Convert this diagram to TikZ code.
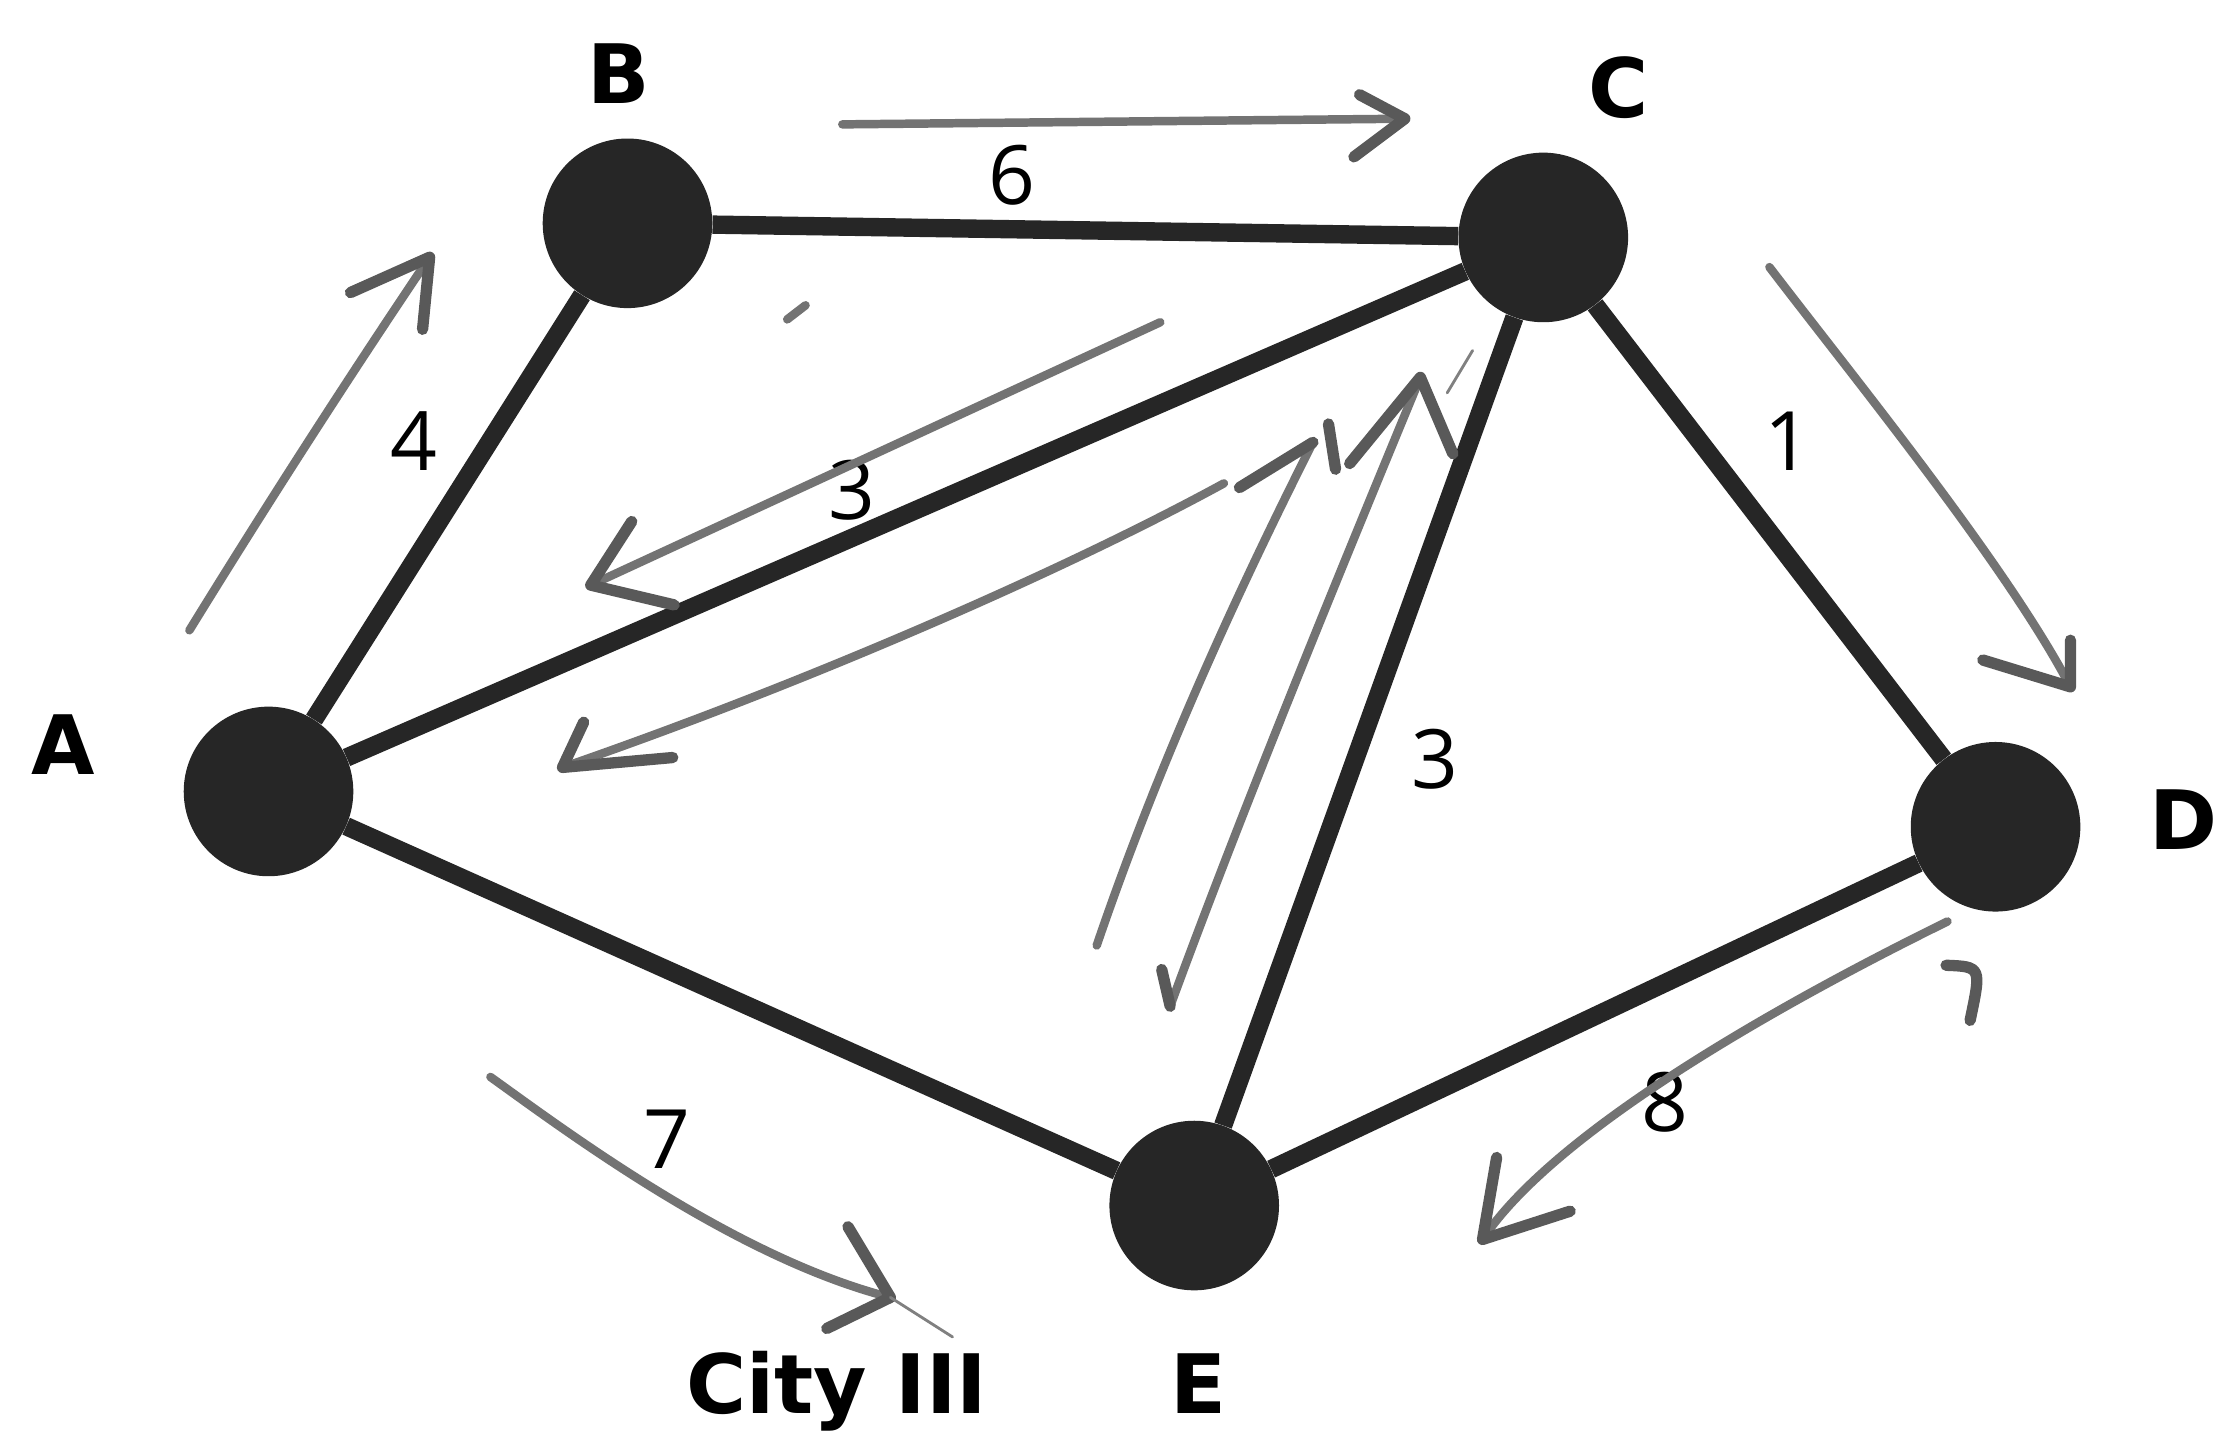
\documentclass[tikz,border=0pt]{standalone}
\usepackage{fontspec}
\setmainfont{DejaVu Sans}
\newfontfamily\digitfont{Open Sans}
\begin{document}
\begin{tikzpicture}[x=1pt,y=-1pt,
  vertex/.style={circle,fill=black!85,minimum size=120pt,inner sep=0pt},
  edge/.style={line width=13pt,black!85},
  hand/.style={line width=6pt,black!55,line cap=round,line join=round},
  barb/.style={line width=8pt,black!65,line cap=round,line join=round},
  thinmark/.style={line width=2pt,black!50,line cap=round},
  lab/.style={font=\fontsize{58}{62}\selectfont\bfseries,inner sep=0pt},
  wt/.style={font=\digitfont\fontsize{58}{62}\selectfont,inner sep=0pt}]
\useasboundingbox[fill=white] (0,0) rectangle (1568,1018);

% vertices
\node[vertex] (A) at (190,560) {};
\node[vertex] (B) at (444,158) {};
\node[vertex] (C) at (1092,168) {};
\node[vertex] (D) at (1412,585) {};
\node[vertex] (E) at (845,853) {};

% edges
\draw[edge] (A) -- (B);
\draw[edge] (B) -- (C);
\draw[edge] (A) -- (C);
\draw[edge] (C) -- (E);
\draw[edge] (C) -- (D);
\draw[edge] (A) -- (E);
\draw[edge] (E) -- (D);

% vertex labels
\node[lab] (lA) at (45,527) {A};
\node[lab] (lB) at (438,52) {B};
\node[lab] (lC) at (1145,62) {C};
\node[lab] (lD) at (1545,580) {D};
\node[lab,anchor=base] (lE) at (848,1000) {E};
\node[lab,anchor=base] (lcity) at (592,1000) {City III};

% weights
\node[wt] (w6) at (716,124) {6};
\node[wt] (w4) at (293,312) {4};
\node[wt] (w3a) at (603,347) {3};
\node[wt] (w1) at (1265,312) {1};
\node[wt] (w3b) at (1015,537) {3};
\node[wt] (w7) at (472,806) {7};
\node[wt] (w8) at (1178,780) {8};

% coordinates for hand-drawn arrows
\coordinate (p1s) at (134,446); \coordinate (p1t) at (304,182);
\coordinate (p2s) at (596,88);  \coordinate (p2t) at (994,84);
\coordinate (p3s) at (1252,189); \coordinate (p3t) at (1465,486);
\coordinate (p4s) at (821,228); \coordinate (p4t) at (418,414);
\coordinate (p5s) at (866,342); \coordinate (p5t) at (398,543);
\coordinate (p6s) at (776,669); \coordinate (p6t) at (929,313);
\coordinate (p7s) at (828,712); \coordinate (p7t) at (1005,267);
\coordinate (p8s) at (1378,652); \coordinate (p8t) at (1049,877);
\coordinate (p9s) at (347,762); \coordinate (p9t) at (630,918);

% A -> B
\draw[hand] (p1s) .. controls (190,355) and (250,262) .. (p1t);
\draw[barb] (248,207) -- (p1t) -- (299,233);
% B -> C
\draw[hand] (p2s) -- (p2t);
\draw[barb] (962,67) -- (p2t) -- (958,111);
% C -> D
\draw[hand] (p3s) .. controls (1310,265) and (1420,400) .. (p3t);
\draw[barb] (1465,453) -- (p3t) -- (1403,467);
% C -> A upper
\draw[hand] (p4s) -- (p4t);
\draw[barb] (447,369) -- (p4t) -- (477,428);
% C -> A lower
\draw[hand] (p5s) .. controls (760,400) and (580,480) .. (p5t);
\draw[barb] (413,511) -- (p5t) -- (476,536);
% E -> C left
\draw[hand] (p6s) .. controls (820,540) and (875,420) .. (p6t);
\draw[barb] (877,345) -- (p6t);
\draw[barb] (940,300) -- (945,332);
% E <-> C right
\draw[hand] (p7s) .. controls (880,570) and (950,400) .. (p7t);
\draw[barb] (955,328) -- (p7t) -- (1028,321);
\draw[barb] (p7s) -- (822,686);
\draw[thinmark] (1024,278) -- (1042,248);
% D -> E
\draw[hand] (p8s) .. controls (1260,710) and (1100,800) .. (p8t);
\draw[barb] (1059,819) -- (p8t) -- (1111,857);
\draw[barb] (1377,683) .. controls (1402,684) .. (1394,722);
% A -> City III
\draw[hand] (p9s) .. controls (400,800) and (520,890) .. (p9t);
\draw[barb] (600,868) -- (p9t) -- (585,940);
\draw[thinmark] (p9t) -- (674,946);
% small stray mark
\draw[hand] (557,226) -- (570,216);
\end{tikzpicture}
\end{document}
